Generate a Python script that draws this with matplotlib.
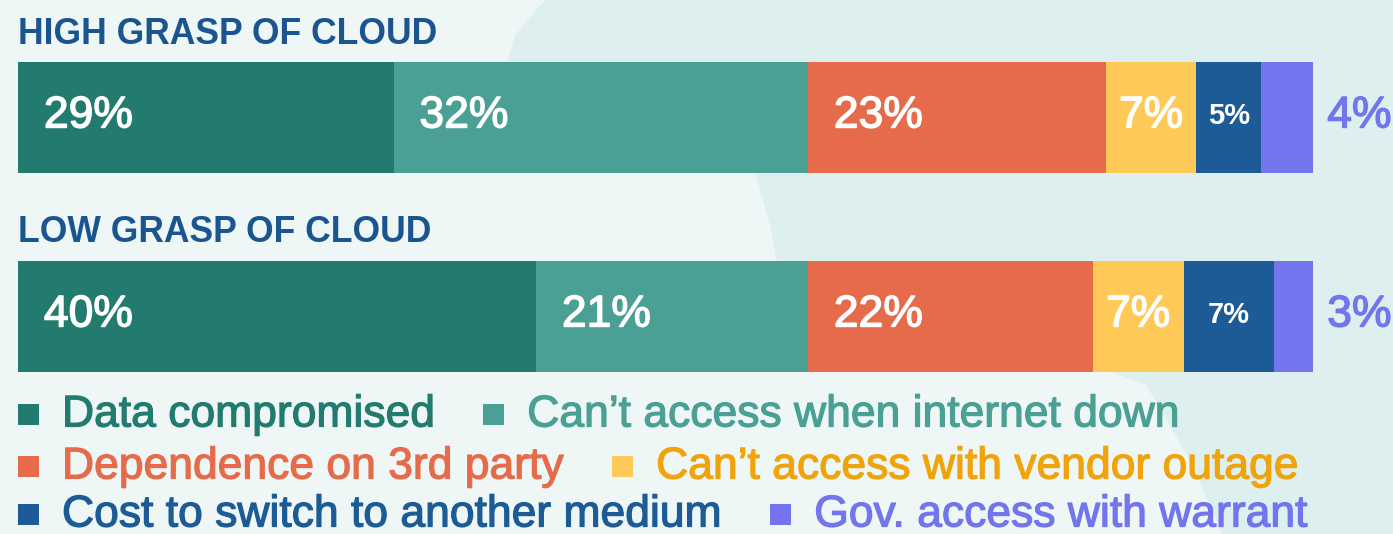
import matplotlib.pyplot as plt
import matplotlib.patheffects as pe
from matplotlib.patches import Polygon, Rectangle

# data
groups = ["HIGH GRASP OF CLOUD", "LOW GRASP OF CLOUD"]
categories = [
    "Data compromised",
    "Can\u2019t access when internet down",
    "Dependence on 3rd party",
    "Can\u2019t access with vendor outage",
    "Cost to switch to another medium",
    "Gov. access with warrant",
]
high_values = [29, 32, 23, 7, 5, 4]
low_values = [40, 21, 22, 7, 7, 3]

bar_colors = ["#237b6f", "#4aa095", "#e56b4b", "#fec956", "#1c5b96", "#7275ee"]
text_colors = ["#237b6f", "#4aa095", "#e56b4b", "#f0a30a", "#1c5b96", "#7275ee"]
legend_rows = [[0, 1], [2, 3], [4, 5]]


def main() -> None:
    W, H = 1393, 534
    plt.rcParams["font.family"] = ["Liberation Sans", "DejaVu Sans"]
    fig = plt.figure(figsize=(W / 100, H / 100), dpi=100)
    fig.set_facecolor("#eef7f6")

    # background decoration (pixel coordinates)
    bg = fig.add_axes([0, 0, 1, 1])
    bg.set_xlim(0, W)
    bg.set_ylim(H, 0)
    bg.axis("off")
    blob = [(545, 0), (W, 0), (W, H), (1222, H), (1190, 460), (1146, 385),
            (1000, 330), (777, 262), (770, 225), (755, 172), (600, 120),
            (505, 70), (515, 35)]
    bg.add_patch(Polygon(blob, closed=True, facecolor="#ddf0ef", edgecolor="none"))

    # main axes: x in percent, y in pixel rows
    ax = fig.add_axes([18 / W, 0, 1295 / W, 1])
    ax.set_xlim(0, 100)
    ax.set_ylim(H, 0)
    ax.axis("off")
    ax.patch.set_alpha(0)

    bar_y = [117, 316]
    title_y = [35, 232]
    bar_h = 111
    thick = [pe.withStroke(linewidth=1.0, foreground="white")]

    for g, (name, vals) in enumerate(zip(groups, [high_values, low_values])):
        ax.text(0, title_y[g], name, fontsize=25.6, fontweight="bold",
                color="#1b5590", va="center", ha="left")
        left = 0
        for i, v in enumerate(vals):
            ax.barh(bar_y[g], v, left=left, height=bar_h, color=bar_colors[i],
                    edgecolor="none")
            label = f"{v}%"
            if i == len(vals) - 1:
                ax.text(left + v + 1.1, bar_y[g] - 1, label, fontsize=32,
                        color=bar_colors[i], ha="left", va="center",
                        path_effects=[pe.withStroke(linewidth=1.0, foreground=bar_colors[i])])
            elif v >= 10:
                ax.text(left + 2.0, bar_y[g] - 1, label, fontsize=32,
                        color="white", ha="left", va="center", path_effects=thick)
            else:
                small = i == 4
                ax.text(left + v / 2, bar_y[g] - 1, label,
                        fontsize=21 if small else 32,
                        fontweight="bold" if small else "normal",
                        color="white", ha="center", va="center",
                        path_effects=[] if small else thick)
            left += v

    # legend with flowing layout
    fig.canvas.draw()
    renderer = fig.canvas.get_renderer()
    row_y = [414, 466, 514]
    sq = 21
    for r, row in enumerate(legend_rows):
        x = 18
        for i in row:
            bg.add_patch(Rectangle((x, row_y[r] - sq / 2), sq, sq,
                                   facecolor=bar_colors[i], edgecolor="none"))
            t = bg.text(x + sq + 23, row_y[r] + 1, categories[i], fontsize=32,
                        color=text_colors[i], ha="left", va="center",
                        path_effects=[pe.withStroke(linewidth=0.9, foreground=text_colors[i])])
            ext = t.get_window_extent(renderer)
            x = ext.x1 + 48

    fig.savefig("out.png", dpi=100)
    plt.close(fig)


if __name__ == "__main__":
    main()
